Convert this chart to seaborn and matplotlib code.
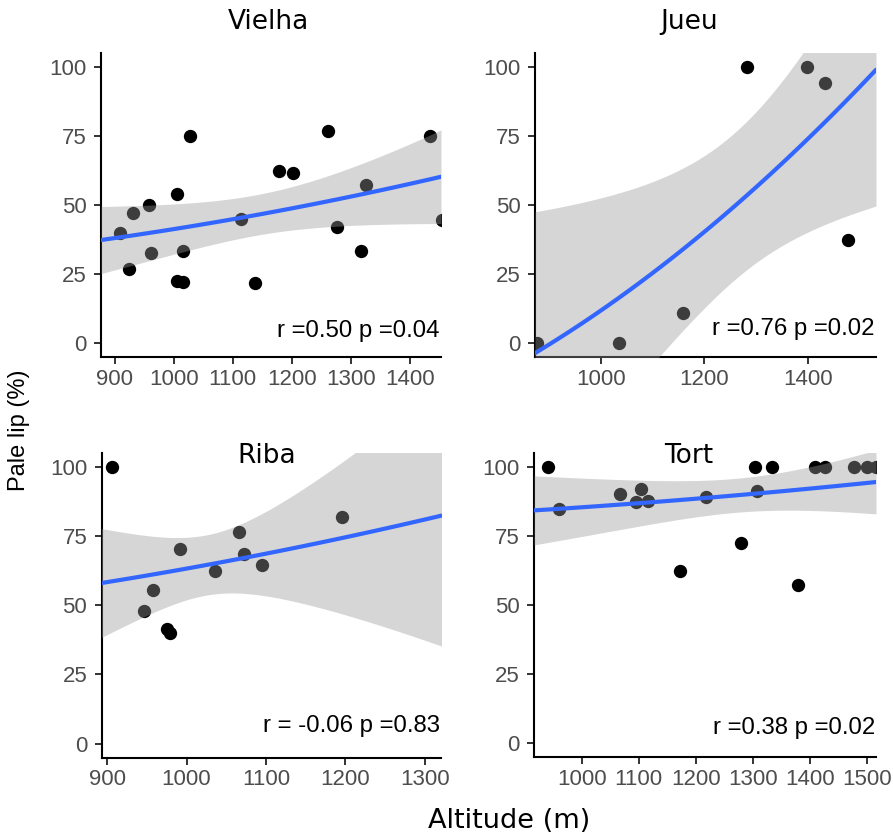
import numpy as np
import pandas as pd
import matplotlib
matplotlib.use("Agg")
import matplotlib.pyplot as plt
import seaborn as sns

# ---------------- data ----------------
sites = ["Vielha", "Jueu", "Riba", "Tort"]

vielha_alt = [909, 925, 932, 958, 961, 1006, 1027, 1006.5, 1015.6, 1016.7,
              1113.6, 1138.4, 1177.9, 1202.7, 1261.3, 1276, 1318.3, 1325.6, 1433.8, 1454.7]
vielha_pale = [40.0, 27.0, 47.2, 50.1, 32.8, 54.1, 75.1, 22.6, 22.2, 33.4,
               44.8, 21.8, 62.2, 61.6, 76.7, 42.2, 33.4, 57.2, 75.1, 44.7]

jueu_alt = [875, 1034, 1158, 1282, 1399, 1434, 1478]
jueu_pale = [0.0, 0.0, 11.0, 100.0, 100.0, 94.3, 37.5]

riba_alt = [906, 946, 958, 975, 979, 992, 1036.5, 1066, 1072, 1095, 1196]
riba_pale = [100.0, 47.8, 55.5, 41.6, 39.9, 70.4, 62.5, 76.4, 68.4, 64.6, 81.8]

tort_alt = [941.5, 960, 1068, 1095, 1104, 1116, 1172.5, 1218, 1280, 1303.5,
            1308, 1334, 1379, 1409, 1427.5, 1477, 1501, 1516.4]
tort_pale = [100.0, 84.6, 90.0, 87.2, 92.0, 87.6, 62.4, 89.0, 72.3, 100.0,
             91.3, 100.0, 57.1, 100.0, 100.0, 100.0, 100.0, 100.0]

stats_text = ["r =0.50 p =0.04", "r =0.76 p =0.02", "r = -0.06 p =0.83", "r =0.38 p =0.02"]

y_ticks = [0, 25, 50, 75, 100]
x_ticks = {
    "Vielha": [900, 1000, 1100, 1200, 1300, 1400],
    "Jueu": [1000, 1200, 1400],
    "Riba": [900, 1000, 1100, 1200, 1300],
    "Tort": [1000, 1100, 1200, 1300, 1400, 1500],
}

data = {
    "Vielha": (vielha_alt, vielha_pale),
    "Jueu": (jueu_alt, jueu_pale),
    "Riba": (riba_alt, riba_pale),
    "Tort": (tort_alt, tort_pale),
}

# ---------------- layout ----------------
W, H = 893, 838
sns.set_theme(style="ticks")
plt.rcParams["font.family"] = ["Liberation Sans", "DejaVu Sans"]

fig = plt.figure(figsize=(W / 100, H / 100), dpi=100)

rects = {  # left, right, top, bottom in pixels
    "Vielha": (101, 441, 53, 357),
    "Jueu": (535, 876, 53, 357),
    "Riba": (101.5, 441.5, 453, 757.5),
    "Tort": (534, 876, 453, 757),
}
xlims = {
    "Vielha": (877, 1453),
    "Jueu": (872, 1532),
    "Riba": (893, 1321),
    "Tort": (916.4, 1516.4),
}
titles_pos = {"Vielha": (268, 29), "Jueu": (689, 29), "Riba": (267, 463), "Tort": (689, 463)}
stat_y = {"Vielha": 0.067, "Jueu": 0.072, "Riba": 0.085, "Tort": 0.076}


def fit_curve(x, y, xs, level_z=1.959964):
    x = np.asarray(x, float)
    y = np.asarray(y, float)
    X = np.column_stack([np.ones_like(x), (x / 1000.0) ** 2])
    beta, *_ = np.linalg.lstsq(X, y, rcond=None)
    resid = y - X @ beta
    s2 = resid @ resid / (len(y) - X.shape[1])
    cov = s2 * np.linalg.inv(X.T @ X)
    Xs = np.column_stack([np.ones_like(xs), (xs / 1000.0) ** 2])
    fit = Xs @ beta
    se = np.sqrt(np.einsum("ij,jk,ik->i", Xs, cov, Xs))
    return fit, fit - level_z * se, fit + level_z * se


for i, site in enumerate(sites):
    l, r, t, b = rects[site]
    ax = fig.add_axes([l / W, 1 - b / H, (r - l) / W, (b - t) / H])
    alt, pale = data[site]
    df = pd.DataFrame({"alt": alt, "pale": pale})

    sns.scatterplot(data=df, x="alt", y="pale", ax=ax, color="black", s=92,
                    linewidth=0, zorder=2, clip_on=True)

    xs = np.linspace(xlims[site][0], xlims[site][1], 120)
    fit, lo, hi = fit_curve(alt, pale, xs)
    ax.fill_between(xs, lo, hi, color="#999999", alpha=0.4, linewidth=0, zorder=3)
    sns.lineplot(x=xs, y=fit, ax=ax, color="#3366FF", linewidth=3.0, zorder=4)

    ax.set_xlim(*xlims[site])
    ax.set_ylim(-5, 105)
    ax.set_xticks(x_ticks[site])
    ax.set_yticks(y_ticks)
    ax.set_xlabel("")
    ax.set_ylabel("")
    for sp in ["top", "right"]:
        ax.spines[sp].set_visible(False)
    for sp in ["left", "bottom"]:
        ax.spines[sp].set_color("black")
        ax.spines[sp].set_linewidth(1.5)
    ax.tick_params(axis="both", length=4.8, width=1.4, color="#333333",
                   labelcolor="#4D4D4D", labelsize=16)
    ax.tick_params(axis="x", pad=3.5)
    ax.tick_params(axis="y", pad=5.5)
    for lab in ax.get_xticklabels() + ax.get_yticklabels():
        lab.set_family(["Liberation Sans", "DejaVu Sans"])
    ax.set_facecolor("white")

    ax.text(0.997, stat_y[site], stats_text[i], transform=ax.transAxes,
            ha="right", va="baseline", fontsize=17.3, color="black",
            family=["Liberation Sans", "DejaVu Sans"])

    tx, ty = titles_pos[site]
    fig.text(tx / W, 1 - ty / H, site, ha="center", va="baseline",
             fontsize=19, color="black", family=["DejaVu Sans"])

fig.text(509 / W, 1 - 828 / H, "Altitude (m)", ha="center", va="baseline",
         fontsize=19.5, color="black", family=["DejaVu Sans"])
fig.text(19 / W, 1 - 430 / H, "Pale lip (%)", ha="center", va="center",
         rotation=90, fontsize=17, color="black",
         family=["Liberation Sans", "DejaVu Sans"])

fig.savefig("out.png", dpi=100, facecolor="white")
